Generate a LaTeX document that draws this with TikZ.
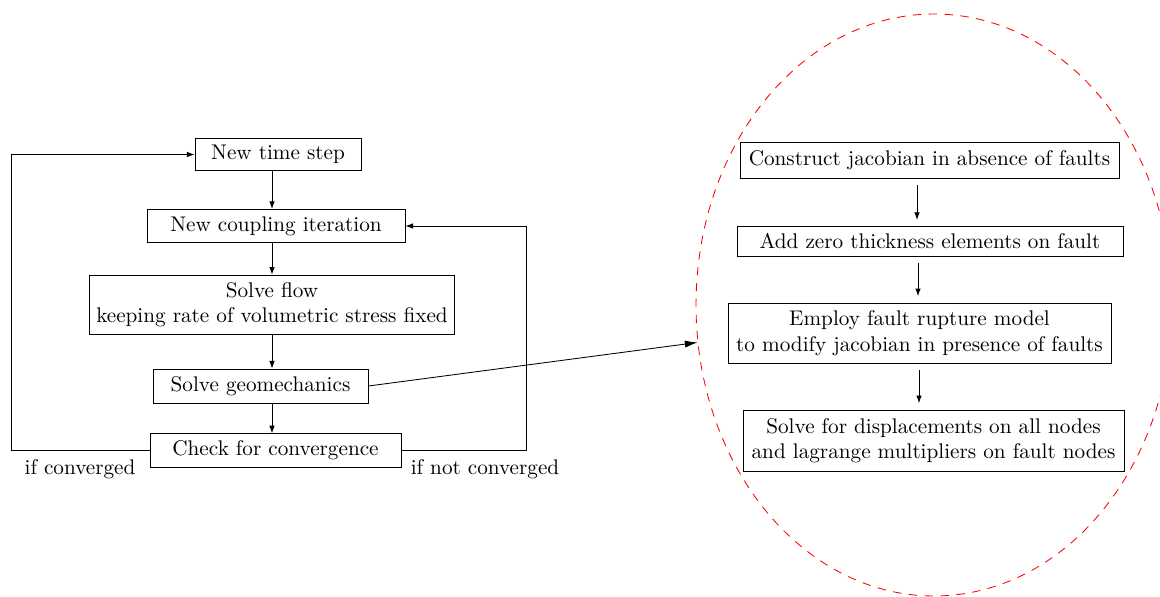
\documentclass[tikz,border=0pt]{standalone}
\usetikzlibrary{arrows.meta,shapes.geometric}
\begin{document}
\begin{tikzpicture}[x=0.4717pt,y=-0.4717pt,
  box/.style={draw,align=center,inner sep=3.33pt},
  arr/.style={-{Latex[length=3.6pt,width=2.6pt]}},
  bigarr/.style={-{Latex[length=6pt,width=3.4pt]}},
  lbl/.style={inner sep=0pt}]
\useasboundingbox (0,0) rectangle (1160,596);
% left flowchart
\node[box,minimum width=78.3pt,minimum height=14.6pt] (nts) at (278,154.5) {New time step};
\node[box,minimum width=121.7pt,minimum height=14.2pt] (nci) at (276,226) {New coupling iteration};
\node[box,minimum width=171.7pt,minimum height=25pt] (flow) at (272,304.5) {Solve flow\\keeping rate of volumetric stress fixed};
\node[box,minimum width=101.4pt,minimum height=16pt] (geo) at (260.5,386) {Solve geomechanics};
\node[box,minimum width=118.4pt,minimum height=14.6pt] (chk) at (275.5,450.5) {Check for convergence};
\coordinate (colL) at (272,0);
\coordinate (L) at (11,0);
\coordinate (R) at (526,0);
\draw[arr] (nts.south -| colL) -- (nci.north -| colL);
\draw[arr] (nci.south -| colL) -- (flow.north -| colL);
\draw[arr] (flow.south -| colL) -- (geo.north -| colL);
\draw[arr] (geo.south -| colL) -- (chk.north -| colL);
\draw[arr] (chk.west) -- (chk.west -| L) |- (nts.west);
\draw[arr] (chk.east) -- (chk.east -| R) |- (nci.east);
\node[lbl] (ifc) at (80,469) {if converged};
\node[lbl] (ifnc) at (485,469) {if not converged};
% right flowchart
\node[box,minimum width=178.8pt,minimum height=17pt] (c1) at (929.5,160) {Construct jacobian in absence of faults};
\node[box,minimum width=182.1pt,minimum height=13.7pt] (c2) at (930,241.5) {Add zero thickness elements on fault};
\node[box,minimum width=180.7pt,minimum height=28.3pt] (c3) at (919.5,333) {Employ fault rupture model\\to modify jacobian in presence of faults};
\node[box,minimum width=179.7pt,minimum height=28.8pt] (c4) at (933.5,440.5) {Solve for displacements on all nodes\\and lagrange multipliers on fault nodes};
\draw[arr,shorten <=3pt,shorten >=3pt] (c1.south -| 917,0) -- (c2.north -| 917,0);
\draw[arr,shorten <=3pt,shorten >=3pt] (c2.south -| 918,0) -- (c3.north -| 918,0);
\draw[arr,shorten <=3pt,shorten >=3pt] (c3.south -| 919,0) -- (c4.north -| 919,0);
% dashed ellipse
\begin{scope}
\clip (0,0) rectangle (1160,596);
\node[ellipse,draw=red,dash pattern=on 4pt off 3.5pt,minimum width=224.5pt,minimum height=274.5pt,inner sep=0pt] (E) at (934,305) {};
\end{scope}
\draw[bigarr] (geo.east) -- (E.189);
\end{tikzpicture}
\end{document}
